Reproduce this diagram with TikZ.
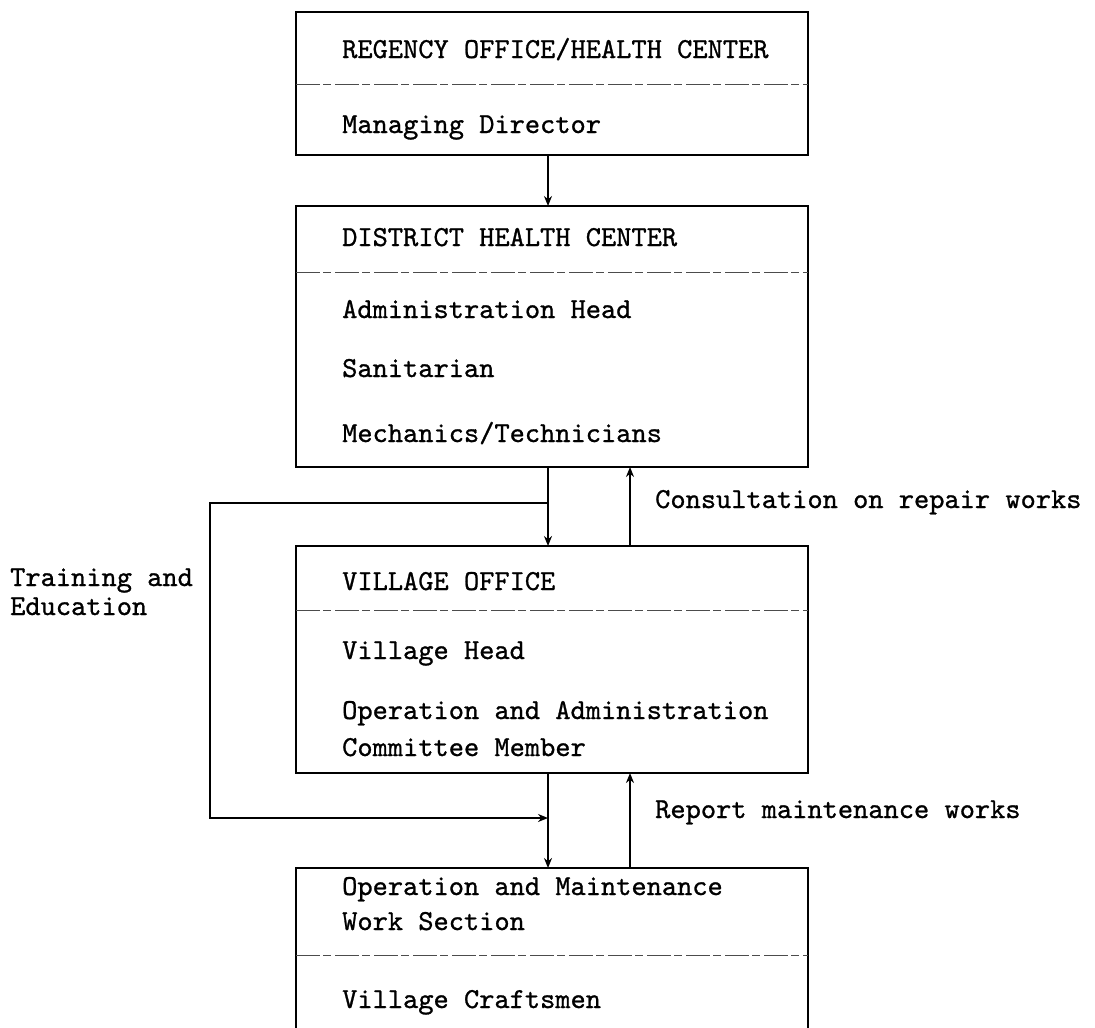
\documentclass[tikz,border=0pt]{standalone}
\usepackage{fontspec}
\usepackage{tikz}
\usetikzlibrary{arrows.meta}
\newfontfamily\orgtt{lmmono10-regular}[Extension=.otf,FakeBold=0.9]
\newcommand{\orgfont}{\orgtt\fontsize{29}{34}\selectfont}

\begin{document}
\begin{tikzpicture}[x=1pt,y=1pt,
  box/.style={draw,line width=2.8pt,inner sep=0pt,outer sep=0pt,minimum width=512pt,anchor=north west},
  txt/.style={font=\orgfont,inner sep=0pt,anchor=base west},
  sep/.style={line width=0.9pt,black!70,dash pattern=on 24pt off 3pt on 8pt off 4pt},
  arr/.style={line width=2pt,-{Stealth[length=10pt,width=8pt]}}]
\useasboundingbox (0,0) rectangle (1095,-1028);
% boxes
\node[box,minimum height=143pt] (regency) at (296,-12) {};
\node[box,minimum height=261pt] (district) at (296,-206) {};
\node[box,minimum height=227pt] (village) at (296,-546) {};
\node[box,minimum height=200pt] (works) at (296,-868) {};
\draw[sep] ([yshift=-72pt]regency.north west) -- ([yshift=-72pt]regency.north east);
\draw[sep] ([yshift=-66pt]district.north west) -- ([yshift=-66pt]district.north east);
\draw[sep] ([yshift=-64pt]village.north west) -- ([yshift=-64pt]village.north east);
\draw[sep] ([yshift=-87pt]works.north west) -- ([yshift=-87pt]works.north east);
% texts in the boxes
\node[txt] (regency-t) at (342,-58) {REGENCY OFFICE/HEALTH CENTER};
\node[txt] (regency-d) at (342,-133) {Managing Director};
\node[txt] (district-t) at (342,-246) {DISTRICT HEALTH CENTER};
\node[txt] (district-a) at (342,-318) {Administration Head};
\node[txt] (district-s) at (342,-377) {Sanitarian};
\node[txt] (district-m) at (342,-442) {Mechanics/Technicians};
\node[txt] (village-t) at (342,-590) {VILLAGE OFFICE};
\node[txt] (village-h) at (342,-659) {Village Head};
\node[txt] (village-c1) at (342,-719) {Operation and Administration};
\node[txt] (village-c2) at (342,-756) {Committee Member};
\node[txt] (works-t1) at (342,-895) {Operation and Maintenance};
\node[txt] (works-t2) at (342,-930) {Work Section};
\node[txt] (works-c) at (342,-1008) {Village Craftsmen};
% side labels
\node[txt] (consult) at (655,-508) {Consultation on repair works};
\node[txt] (report) at (655,-818) {Report maintenance works};
\node[txt] (train) at (10,-586) {Training and};
\node[txt] (educ) at (10,-615) {Education};
% connectors
\coordinate (dn) at (548,0);
\coordinate (up) at (630,0);
\draw[arr] (regency.south -| dn) -- (district.north -| dn);
\draw[arr] (district.south -| dn) -- (village.north -| dn);
\draw[arr] (village.north -| up) -- (district.south -| up);
\draw[arr] (village.south -| dn) -- (works.north -| dn);
\draw[arr] (works.north -| up) -- (village.south -| up);
\coordinate (tr-top) at (210,-503);
\coordinate (tr-bot) at (210,-818);
\draw[arr,line width=1.6pt] (tr-top -| dn) -- (tr-top) -- (tr-bot) -- (tr-bot -| dn);
\end{tikzpicture}
\end{document}
